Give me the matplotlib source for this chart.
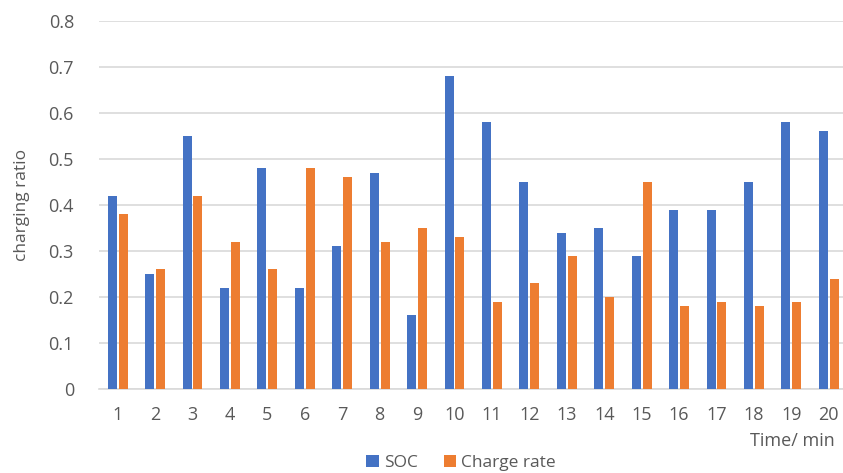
import numpy as np
import matplotlib
matplotlib.use("Agg")
import matplotlib.pyplot as plt

# ============================
# DATOS
# ============================
minutos = list(range(1, 21))
soc = [0.42, 0.25, 0.55, 0.22, 0.48, 0.22, 0.31, 0.47, 0.16, 0.68,
       0.58, 0.45, 0.34, 0.35, 0.29, 0.39, 0.39, 0.45, 0.58, 0.56]
charge_rate = [0.38, 0.26, 0.42, 0.32, 0.26, 0.48, 0.46, 0.32, 0.35, 0.33,
               0.19, 0.23, 0.29, 0.20, 0.45, 0.18, 0.19, 0.18, 0.19, 0.24]
y_ticks = [0, 0.1, 0.2, 0.3, 0.4, 0.5, 0.6, 0.7, 0.8]

# ============================
# GRAFICADO
# ============================
plt.rcParams["font.family"] = ["Open Sans", "DejaVu Sans"]
gris = "#595959"

fig = plt.figure(figsize=(8.43, 4.73), dpi=100)
ax = fig.add_axes([0.1174, 0.1776, 0.888, 0.778])

x = np.arange(len(minutos))
ancho = 0.24
sep = 0.145
ax.bar(x - sep, soc, width=ancho, color="#4472C4", label="SOC", zorder=3)
ax.bar(x + sep, charge_rate, width=ancho, color="#ED7D31", label="Charge rate", zorder=3)

ax.set_xlim(-0.5, len(minutos) - 0.5)
ax.set_ylim(0, 0.8)
ax.set_yticks(y_ticks)
ax.set_yticklabels(["0" if v == 0 else f"{v:.1f}" for v in y_ticks])
ax.set_xticks(x)
ax.set_xticklabels([str(m) for m in minutos])

ax.grid(axis="y", color="#d9d9d9", linewidth=1.2, zorder=0)
for lado in ["top", "right", "left"]:
    ax.spines[lado].set_visible(False)
ax.spines["bottom"].set_color("#d9d9d9")
ax.spines["bottom"].set_linewidth(1.2)
ax.tick_params(axis="both", length=0, colors=gris, labelsize=13)
ax.tick_params(axis="y", pad=18)
ax.tick_params(axis="x", pad=12)

ax.set_ylabel("charging ratio", color=gris, fontsize=12.5, labelpad=13)
fig.text(0.99, 0.068, "Time/ min", ha="right", va="center", color=gris, fontsize=13)

fig.legend(loc="center", bbox_to_anchor=(0.547, 0.021), ncol=2, frameon=False,
           fontsize=12.5, handlelength=0.7, handleheight=0.7, handletextpad=0.3,
           columnspacing=1.5, labelcolor=gris)

plt.savefig("out.png", dpi=100)
